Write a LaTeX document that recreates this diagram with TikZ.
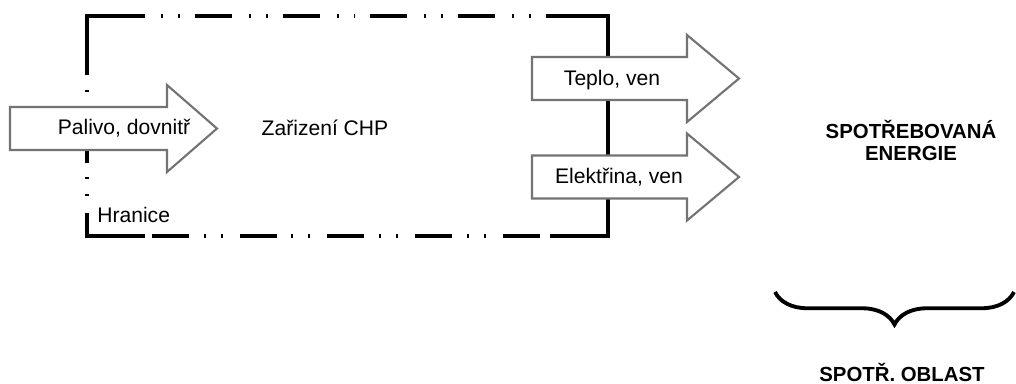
\documentclass[tikz,border=0pt]{standalone}
\usepackage{fontspec}
\setmainfont{Liberation Sans}
\usetikzlibrary{decorations.pathreplacing}

\tikzset{
  hranice/.style={line width=2pt, dash pattern=on 21pt off 8.5pt on 1.1pt off 8.5pt on 1.1pt off 9.7pt, dash phase=37.4pt},
  roh/.style={line width=2pt},
  sipka/.style={draw=gray!90!black, line width=1.2pt, fill=white},
  popis/.style={font=\fontsize{12}{14}\selectfont, inner sep=0pt},
  tucny/.style={font=\fontsize{11.6}{12.5}\selectfont\bfseries, inner sep=0pt, align=center},
}

\begin{document}
\begin{tikzpicture}[x=0.02cm, y=-0.02cm]
	\useasboundingbox (0,0) rectangle (1016,383);
	
	% hranice zarizeni
	\draw[hranice] (87,16) rectangle (608,236);
	\draw[roh] (550,16) -- (608,16) -- (608,236) -- (550,236);
	\draw[roh] (87,38) -- (87,16) -- (145,16);
	\draw[roh] (87,218) -- (87,236) -- (145,236);
	
	% sipky
	\foreach \xl/\xh/\xt/\yc in {10/167/217/128.5, 532/687/739/78.5, 532/687/739/177}
	{
		\draw[sipka] (\xl,\yc-21.5) -- (\xh,\yc-21.5) -- (\xh,\yc-43.5) -- (\xt,\yc)
			-- (\xh,\yc+43.5) -- (\xh,\yc+21.5) -- (\xl,\yc+21.5) -- cycle;
	}
	
	\node[popis] (palivo) at (124,128) {Palivo, dovnitř};
	\node[popis] (chp) at (325,128) {Zařizení CHP};
	\node[popis] (teplo) at (612,80) {Teplo, ven};
	\node[popis] (elektrina) at (619,177) {Elektřina, ven};
	\node[popis, anchor=west] (hranice) at (97,215) {Hranice};
	
	\node[tucny] (spotreba) at (911,140) {SPOTŘEBOVANÁ\\ENERGIE};
	\node[tucny] (oblast) at (902,372) {SPOTŘ. OBLAST};
	
	% zavorka
	\coordinate (zl) at (775,292);
	\coordinate (zp) at (1014,292);
	\draw[line width=2.2pt, decorate, decoration={brace, amplitude=18.5pt}] (zp) -- (zl);
\end{tikzpicture}
\end{document}
